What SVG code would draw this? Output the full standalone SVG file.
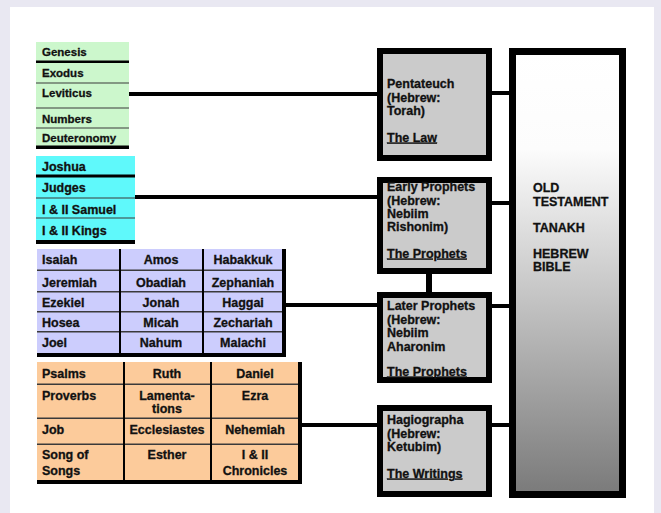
<svg xmlns="http://www.w3.org/2000/svg" width="661" height="513" viewBox="0 0 661 513">
<defs>
<linearGradient id="bigGrad" x1="0" y1="0" x2="0" y2="1">
<stop offset="0" stop-color="#ffffff"/>
<stop offset="0.22" stop-color="#fcfcfc"/>
<stop offset="1" stop-color="#7a7a7a"/>
</linearGradient>
<style>
text{font-family:"Liberation Sans",Arial,sans-serif;font-weight:bold;fill:#111;stroke:#111;stroke-width:0.3px;font-size:12.5px}
.sm{font-size:11.5px}
.c{text-anchor:middle}
.u{text-decoration:underline}
.box{fill:#cbcbcb;stroke:#000;stroke-width:6}
.conn{stroke:#000;stroke-width:4;fill:none}
.thick{fill:#000}
.thin{fill:#3a3a3a}
</style>
</defs>
<rect x="0" y="0" width="661" height="513" fill="#e9e8f2"/>
<rect x="10" y="7" width="644" height="506" fill="#ffffff"/>

<g id="connectors">
<line class="conn" x1="129" y1="94" x2="379" y2="94"/>
<line class="conn" x1="135" y1="197" x2="379" y2="197"/>
<line class="conn" x1="284" y1="305" x2="379" y2="305"/>
<line class="conn" x1="299" y1="425" x2="379" y2="425"/>
<line class="conn" x1="490" y1="93" x2="511" y2="93"/>
<line class="conn" x1="490" y1="203" x2="511" y2="203"/>
<line class="conn" x1="490" y1="306" x2="511" y2="306"/>
<line class="conn" x1="490" y1="425" x2="511" y2="425"/>
<line x1="429" y1="272" x2="429" y2="294" stroke="#000" stroke-width="6"/>
</g>

<g id="torah-books">
<rect x="36" y="42" width="93" height="105" fill="#ccf7cc"/>
<rect class="thick" x="36" y="60.5" width="93" height="2.5"/>
<rect class="thin" x="36" y="82.5" width="93" height="1"/>
<rect class="thin" x="36" y="107.5" width="93" height="1"/>
<rect class="thin" x="36" y="127.5" width="93" height="1"/>
<rect class="thick" x="36" y="145.5" width="93" height="3.5"/>
<text class="sm" x="42" y="56">Genesis</text>
<text class="sm" x="42" y="77">Exodus</text>
<text class="sm" x="42" y="97">Leviticus</text>
<text class="sm" x="42" y="123">Numbers</text>
<text class="sm" x="42" y="142">Deuteronomy</text>
</g>

<g id="early-books">
<rect x="36" y="156" width="99" height="85" fill="#5ff9fb"/>
<rect class="thick" x="36" y="174.5" width="99" height="3"/>
<rect class="thin" x="36" y="197.5" width="99" height="1"/>
<rect class="thin" x="36" y="217.5" width="99" height="1"/>
<rect class="thick" x="36" y="240" width="99" height="4"/>
<text x="42" y="170.5">Joshua</text>
<text x="42" y="191.5">Judges</text>
<text x="42" y="213.5">I &amp; II Samuel</text>
<text x="42" y="234.5">I &amp; II Kings</text>
</g>

<g id="later-books">
<rect x="37" y="249" width="246" height="105" fill="#cccdfd"/>
<rect class="thin" x="37" y="269.5" width="246" height="1.5"/>
<rect class="thin" x="37" y="291" width="246" height="1.5"/>
<rect class="thin" x="37" y="311" width="246" height="1.5"/>
<rect class="thin" x="37" y="331" width="246" height="1.5"/>
<rect class="thick" x="119" y="249" width="2" height="105"/>
<rect class="thick" x="202" y="249" width="2" height="105"/>
<rect class="thick" x="37" y="353" width="249" height="4"/>
<rect class="thick" x="282" y="249" width="4" height="108"/>
<text x="42" y="263.5">Isaiah</text>
<text x="42" y="286.5">Jeremiah</text>
<text x="42" y="306.5">Ezekiel</text>
<text x="42" y="326.5">Hosea</text>
<text x="42" y="346.5">Joel</text>
<text class="c" x="161" y="263.5">Amos</text>
<text class="c" x="161" y="286.5">Obadiah</text>
<text class="c" x="161" y="306.5">Jonah</text>
<text class="c" x="161" y="326.5">Micah</text>
<text class="c" x="161" y="346.5">Nahum</text>
<text class="c" x="243" y="263.5">Habakkuk</text>
<text class="c" x="243" y="286.5">Zephaniah</text>
<text class="c" x="243" y="306.5">Haggai</text>
<text class="c" x="243" y="326.5">Zechariah</text>
<text class="c" x="243" y="346.5">Malachi</text>
</g>

<g id="writings-books">
<rect x="37" y="362" width="262" height="119" fill="#fccb9b"/>
<rect class="thin" x="37" y="383.5" width="262" height="1.5"/>
<rect class="thin" x="37" y="417.5" width="262" height="1.5"/>
<rect class="thin" x="37" y="443.5" width="262" height="1.5"/>
<rect class="thick" x="123" y="362" width="2" height="120"/>
<rect class="thick" x="210" y="362" width="2" height="120"/>
<rect class="thick" x="37" y="480" width="265" height="4"/>
<rect class="thick" x="298" y="362" width="4" height="122"/>
<text x="42" y="377.5">Psalms</text>
<text x="42" y="399.5">Proverbs</text>
<text x="42" y="433.5">Job</text>
<text x="42" y="458.5">Song of</text>
<text x="42" y="474.5">Songs</text>
<text class="c" x="167" y="377.5">Ruth</text>
<text class="c" x="167" y="399.5">Lamenta-</text>
<text class="c" x="167" y="412.5">tions</text>
<text class="c" x="167" y="433.5">Ecclesiastes</text>
<text class="c" x="167" y="458.5">Esther</text>
<text class="c" x="255" y="377.5">Daniel</text>
<text class="c" x="255" y="399.5">Ezra</text>
<text class="c" x="255" y="433.5">Nehemiah</text>
<text class="c" x="255" y="458.5">I &amp; II</text>
<text class="c" x="255" y="474.5">Chronicles</text>
</g>

<g id="pentateuch">
<rect class="box" x="380" y="51" width="109" height="107"/>
<text x="387" y="88">Pentateuch</text>
<text x="387" y="101.5">(Hebrew:</text>
<text x="387" y="114.5">Torah)</text>
<text class="u" x="387" y="141.5">The Law</text>
</g>

<g id="early-prophets">
<rect class="box" x="380" y="180" width="109" height="91"/>
<text x="387" y="191">Early Prophets</text>
<text x="387" y="204.5">(Hebrew:</text>
<text x="387" y="217.5">Nebiim</text>
<text x="387" y="231">Rishonim)</text>
<text class="u" x="387" y="257.5">The Prophets</text>
</g>

<g id="later-prophets">
<rect class="box" x="380" y="295" width="109" height="85"/>
<text x="387" y="310">Later Prophets</text>
<text x="387" y="323.5">(Hebrew:</text>
<text x="387" y="337">Nebiim</text>
<text x="387" y="350.5">Aharonim</text>
<text class="u" x="387" y="375.5">The Prophets</text>
</g>

<g id="hagiographa">
<rect class="box" x="380" y="408" width="109" height="86"/>
<text x="387" y="424">Hagiographa</text>
<text x="387" y="437.5">(Hebrew:</text>
<text x="387" y="451">Ketubim)</text>
<text class="u" x="387" y="477.5">The Writings</text>
</g>

<g id="old-testament">
<rect x="512.5" y="51.5" width="110" height="443" fill="url(#bigGrad)" stroke="#000" stroke-width="7"/>
<text x="533" y="191.5">OLD</text>
<text x="533" y="205.5">TESTAMENT</text>
<text x="533" y="231.5">TANAKH</text>
<text x="533" y="257.5">HEBREW</text>
<text x="533" y="270.5">BIBLE</text>
</g>
</svg>
